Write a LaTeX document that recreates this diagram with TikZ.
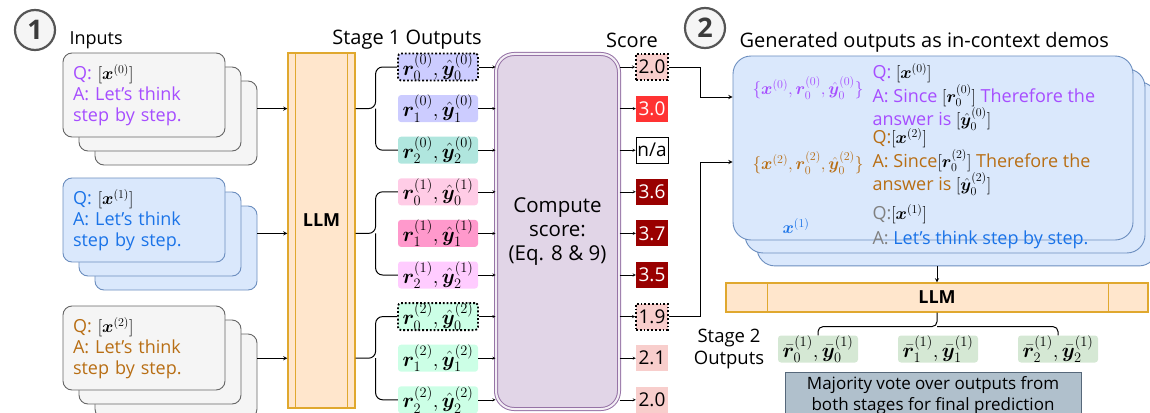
\documentclass[tikz,border=0pt]{standalone}
\usepackage{amsmath,bm}
\usepackage{fontspec}
\setmainfont{Open Sans}
\usetikzlibrary{calc,positioning}
\definecolor{inbord}{HTML}{666666}
\definecolor{infill}{HTML}{F5F5F5}
\definecolor{blubord}{HTML}{6C8EBF}
\definecolor{blufill}{HTML}{DAE8FC}
\definecolor{llmfill}{HTML}{FFE6CC}
\definecolor{llmbord}{HTML}{E0A82E}
\definecolor{compfill}{HTML}{E1D5E7}
\definecolor{compbord}{HTML}{9673A6}
\definecolor{lav}{HTML}{CCCCFF}
\definecolor{teal}{HTML}{B0E6DE}
\definecolor{pinka}{HTML}{FFCCE6}
\definecolor{pinkb}{HTML}{FF99CC}
\definecolor{pinkc}{HTML}{FFCCFF}
\definecolor{mint}{HTML}{CCFFE6}
\definecolor{pinksc}{HTML}{F8CECC}
\definecolor{redsc}{HTML}{FF3333}
\definecolor{darkred}{HTML}{990000}
\definecolor{stgfill}{HTML}{D5E8D4}
\definecolor{majfill}{HTML}{B0C0CC}
\definecolor{majbord}{HTML}{56687A}
\definecolor{txtpurple}{HTML}{A64DFF}
\definecolor{txtorange}{HTML}{B86E14}
\definecolor{txtblue}{HTML}{1A73E8}
\definecolor{txtgray}{HTML}{808080}
\definecolor{numgray}{HTML}{555555}
\newcommand{\mth}[1]{\textcolor{black}{$#1$}}

\tikzset{
  inbox/.style={draw=inbord, fill=infill, rounded corners=9pt, line width=0.9pt,
    minimum width=162pt, minimum height=84pt, text width=142pt, inner xsep=10pt, align=left,
    font=\fontsize{18}{21}\selectfont},
  llmbox/.style={draw=llmbord, fill=llmfill, line width=1.2pt},
  outbox/.style={rounded corners=3pt, minimum width=80pt, minimum height=26pt, inner sep=0pt,
    font=\fontsize{20}{22}\selectfont},
  scbox/.style={minimum width=32pt, minimum height=26pt, inner sep=0pt, font=\fontsize{19}{20}\selectfont},
  dotbox/.style={draw=black, dotted, line width=1.8pt},
  nobox/.style={},
  nabox/.style={draw=black, line width=0.8pt},
  redbox/.style={text=white},
  brace/.style={rounded corners=7pt, line width=1pt},
  numcirc/.style={circle, draw=numgray, line width=2.2pt, fill=infill, minimum size=40pt,
    text=numgray!70!black, font=\fontsize{27}{27}\bfseries\selectfont},
  demobox/.style={draw=blubord, fill=blufill, rounded corners=18pt, line width=0.9pt,
    minimum width=400pt, minimum height=184pt},
  demotxt/.style={anchor=west, align=left, font=\fontsize{18}{21}\selectfont}
}

\begin{document}
\begin{tikzpicture}[x=1pt, y=-1pt, >=stealth, font=\fontsize{20}{24}\selectfont]
\useasboundingbox (0,0) rectangle (1150,412);
\clip (0,0) rectangle (1150,412);

% stage 1
\node[numcirc] (num1) at (35,30) {1};
\node[anchor=west, font=\fontsize{18}{20}\selectfont] (inlbl) at (66,40) {Inputs};
\node (s1lbl) at (407,40) {Stage 1 Outputs};
\node (sclbl) at (632,40) {Score};

\foreach \k/\y/\f/\d/\t in {0/95/infill/inbord/txtpurple, 1/220/blufill/blubord/txtblue, 2/348/infill/inbord/txtorange} {
  \foreach \s in {32,16}
    \node[inbox, fill=\f, draw=\d] (in\k-\s) at (144+\s, \y+\s*0.875) {};
  \node[inbox, fill=\f, draw=\d, text=\t] (in\k) at (144,\y) {Q: \mth{[\bm x^{(\k)}]}\\A: Let's think\\step by step.};
}

\node[llmbox, minimum width=67pt, minimum height=355pt] (llm) at (321.5,230.5) {};
\draw[llmbord, line width=1.2pt] ([xshift=8pt]llm.north west) -- ([xshift=8pt]llm.south west);
\draw[llmbord, line width=1.2pt] ([xshift=-8pt]llm.north east) -- ([xshift=-8pt]llm.south east);
\node[font=\fontsize{18}{20}\bfseries\selectfont] (llmlbl) at (321.5,220) {LLM};

\foreach \i/\r/\k/\c/\st in {0/0/0/lav/dotbox, 1/0/1/lav/nobox, 2/0/2/teal/nobox,
    3/1/0/pinka/nobox, 4/1/1/pinkb/nobox, 5/1/2/pinkc/nobox,
    6/2/0/mint/dotbox, 7/2/1/mint/nobox, 8/2/2/mint/nobox}
  \node[outbox, fill=\c, \st] (o\i) at (438, 67+41.6*\i) {$\bm r_{\k}^{(\r)},\hat{\bm y}_{\k}^{(\r)}$};

\foreach \k/\a/\b/\c in {0/0/1/2, 1/3/4/5, 2/6/7/8} {
  \draw[->, line width=0.9pt] (in\k-32.east |- o\b) -- (llm.west |- o\b);
  \draw[brace] (o\a.west) -| ($(llm.east |- o\b)+(20,0)$) -- (llm.east |- o\b);
  \draw[brace] (o\c.west) -| ($(llm.east |- o\b)+(20,0)$);
}

\node[draw=compbord, double=compfill!40, double distance=2pt, line width=1pt, fill=compfill,
  rounded corners=18pt, minimum width=123pt, minimum height=355pt, align=center,
  font=\fontsize{20.5}{24}\selectfont] (comp) at (557.5,231.5)
  {Compute\\score:\\(Eq. 8 \& 9)};

\foreach \i/\v/\c/\st in {0/2.0/pinksc/dotbox, 1/3.0/redsc/redbox, 2/{n/a}/white/nabox,
    3/3.6/darkred/redbox, 4/3.7/darkred/redbox, 5/3.5/darkred/redbox,
    6/1.9/pinksc/dotbox, 7/2.1/pinksc/nobox, 8/2.0/pinksc/nobox} {
  \node[scbox, fill=\c, \st] (sc\i) at (652, 67+41.6*\i) {\v};
  \draw[->] (o\i.east) -- (comp.west |- o\i);
  \draw[->] (comp.east |- sc\i) -- (sc\i.west);
}

% stage 2
\node[numcirc] (num2) at (705,28) {2};
\node[anchor=west] (demolbl) at (736,42) {Generated outputs as in-context demos};

\foreach \s in {24,12}
  \node[demobox] (demo-\s) at (933+\s, 148+\s*1.08) {};
\node[demobox] (demo) at (933,148) {};

\node[text=txtpurple, font=\fontsize{18}{20}\selectfont] (dem0) at (808,88)
  {$\{\bm x^{(0)},\bm r_0^{(0)},\hat{\bm y}_0^{(0)}\}$};
\node[text=txtorange, font=\fontsize{18}{20}\selectfont] (dem2) at (808,163)
  {$\{\bm x^{(2)},\bm r_0^{(2)},\hat{\bm y}_0^{(2)}\}$};
\node[text=txtblue, font=\fontsize{18}{20}\selectfont] (dem1) at (796,226) {$\bm x^{(1)}$};

\node[demotxt, text=txtpurple] (blk0) at (869,97)
  {Q: \mth{[\bm x^{(0)}]}\\A: Since \mth{[\bm r_0^{(0)}]} Therefore the\\answer is \mth{[\hat{\bm y}_0^{(0)}]}};
\node[demotxt, text=txtorange] (blk2) at (869,162)
  {Q:\mth{[\bm x^{(2)}]}\\A: Since\mth{[\bm r_0^{(2)}]} Therefore the\\answer is \mth{[\hat{\bm y}_0^{(2)}]}};
\node[demotxt, text=txtblue] (blk1) at (869,227)
  {\textcolor{txtgray}{Q:}\mth{[\bm x^{(1)}]}\\[4pt]\textcolor{txtgray}{A:} Let's think step by step.};

\draw[->, line width=0.9pt] (sc0.east) -- ++(32,0) |- (demo.west |- blk0);
\draw[->, line width=0.9pt] (sc6.east) -- ++(32,0) |- (demo.west |- blk2);

\node[llmbox, minimum width=422pt, minimum height=29pt, font=\fontsize{18}{20}\bfseries\selectfont] (llm2) at (937,297.5) {LLM};
\draw[llmbord, line width=1.2pt] ([xshift=42pt]llm2.north west) -- ([xshift=42pt]llm2.south west);
\draw[llmbord, line width=1.2pt] ([xshift=-40pt]llm2.north east) -- ([xshift=-40pt]llm2.south east);
\draw[->, line width=0.9pt] (llm2.north |- demo-24.south) -- (llm2.north);

\foreach \k/\x in {0/818, 1/938, 2/1058}
  \node[outbox, fill=stgfill] (st\k) at (\x,349) {$\bar{\bm r}_{\k}^{(1)},\bar{\bm y}_{\k}^{(1)}$};
\node[align=center, font=\fontsize{18.5}{22}\selectfont] (s2lbl) at (729,349) {Stage 2\\Outputs};

\coordinate (tip2) at ($(llm2.south)+(0,14)$);
\draw[brace, rounded corners=5pt] (st0.north) |- (tip2) -- (llm2.south);
\draw[brace, rounded corners=5pt] (st2.north) |- (tip2);

\node[draw=majbord, fill=majfill, line width=1pt, anchor=north, minimum width=296pt, minimum height=46pt,
  align=center, font=\fontsize{17}{21}\selectfont] (maj) at (933,372)
  {Majority vote over outputs from\\both stages for final prediction};
\end{tikzpicture}
\end{document}
